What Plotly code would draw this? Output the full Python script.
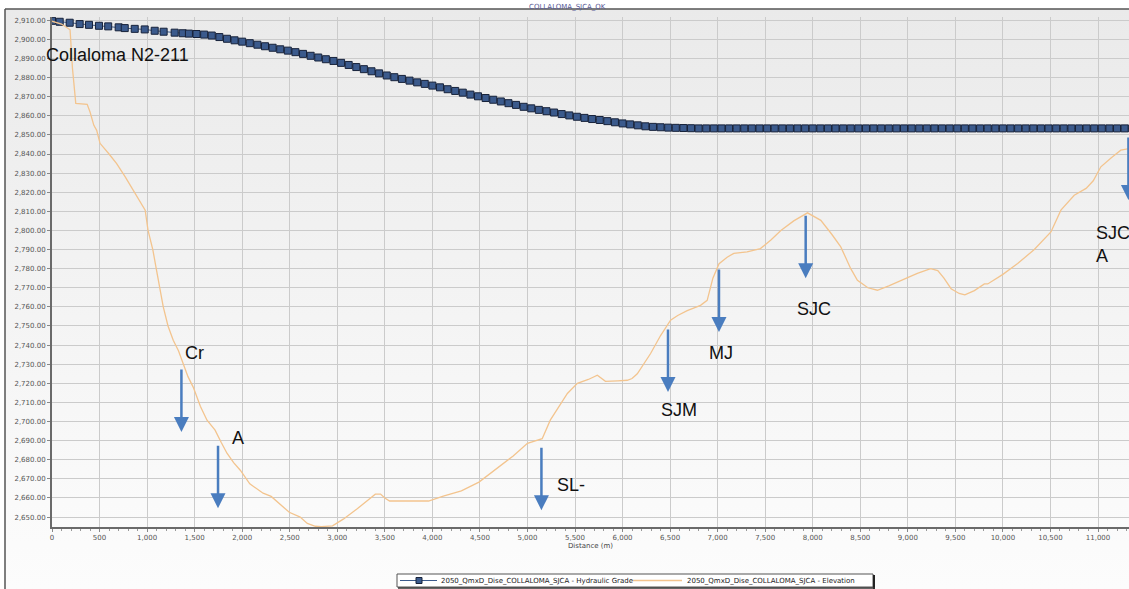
import base64
import plotly.graph_objects as go

# ---------------- data ----------------
hgl_dist = [0, 81, 186, 291, 389, 494, 591, 701, 765, 870, 975, 1080, 1174, 1290, 1374,
            1440, 1520, 1600, 1680, 1760, 1840, 1920, 2000,
            2080, 2160, 2240, 2320, 2400, 2480, 2560,
            2640, 2720, 2800, 2880, 2960, 3040,
            3120, 3200, 3280, 3360, 3440, 3520,
            3600, 3680, 3760, 3840, 3920, 4000,
            4080, 4160, 4240, 4320, 4400, 4480,
            4560, 4640, 4720, 4800, 4880, 4960,
            5040, 5120, 5200, 5280, 5360, 5440, 5520,
            5600, 5680, 5760, 5840, 5920, 6000,
            6080, 6160, 6240, 6320, 6400, 6480, 6560, 6640, 6720,
            6800, 6880, 6960, 7040, 7120, 7200, 7280, 7360, 7440, 7520,
            7600, 7680, 7760, 7840, 7920, 8000, 8080, 8160, 8240, 8320,
            8400, 8480, 8560, 8640, 8720, 8800, 8880, 8960, 9040, 9120,
            9200, 9280, 9360, 9440, 9520, 9600, 9680, 9760, 9840, 9920,
            10000, 10080, 10160, 10240, 10320, 10400, 10480, 10560, 10640, 10720,
            10800, 10880, 10960, 11040, 11120, 11200, 11280, 11360]
hgl_value = [2909.7, 2909.2, 2908.7, 2908.0, 2907.6, 2907.1, 2906.8, 2906.3, 2905.9, 2905.5,
             2905.2, 2904.5, 2904.0, 2903.5, 2903.2,
             2903.0, 2902.8, 2902.5, 2902.0, 2901.2, 2900.3, 2899.5, 2898.8,
             2898.0, 2897.2, 2896.4, 2895.6, 2894.8, 2894.1, 2893.3,
             2892.4, 2891.4, 2890.5, 2889.6, 2888.7, 2887.7,
             2886.6, 2885.5, 2884.4, 2883.3, 2882.2, 2881.1,
             2880.2, 2879.3, 2878.4, 2877.5, 2876.7, 2875.8,
             2874.9, 2873.9, 2873.0, 2872.1, 2871.1, 2870.2,
             2869.3, 2868.4, 2867.5, 2866.6, 2865.7, 2864.7,
             2863.9, 2863.1, 2862.4, 2861.7, 2860.9, 2860.2, 2859.5,
             2858.9, 2858.3, 2857.8, 2857.2, 2856.6, 2856.0,
             2855.5, 2855.0, 2854.5, 2854.2, 2854.0, 2853.8, 2853.7, 2853.6, 2853.5,
             2853.4, 2853.4, 2853.4, 2853.4, 2853.4, 2853.4, 2853.4, 2853.4, 2853.4, 2853.4,
             2853.4, 2853.4, 2853.4, 2853.4, 2853.4, 2853.4, 2853.4, 2853.4, 2853.4, 2853.4,
             2853.4, 2853.4, 2853.4, 2853.4, 2853.4, 2853.4, 2853.4, 2853.4, 2853.4, 2853.4,
             2853.4, 2853.4, 2853.4, 2853.4, 2853.4, 2853.4, 2853.4, 2853.4, 2853.4, 2853.4,
             2853.4, 2853.4, 2853.4, 2853.4, 2853.4, 2853.4, 2853.4, 2853.4, 2853.4, 2853.4,
             2853.4, 2853.4, 2853.4, 2853.4, 2853.4, 2853.4, 2853.4, 2853.4]

elev_dist = [0, 100, 190, 215, 250, 370, 400, 440, 470, 505, 600, 680, 770, 855, 930, 980,
             1010, 1060, 1100, 1170, 1220, 1275, 1330, 1380, 1430, 1485, 1560, 1630, 1715,
             1780, 1840, 1910, 1980, 2080, 2220, 2305, 2430, 2495, 2610, 2685, 2770, 2833,
             2950, 3063, 3210, 3330, 3400, 3455, 3500, 3550, 3780, 3960, 4115, 4305, 4490,
             4600, 4715, 4850, 5000, 5155, 5240, 5330, 5420, 5525, 5640, 5735, 5820, 5950,
             6050, 6100, 6155, 6295, 6400, 6505, 6580, 6680, 6820, 6890, 6950, 7015, 7100,
             7170, 7310, 7450, 7560, 7665, 7800, 7945, 8085, 8200, 8295, 8400, 8470, 8580,
             8680, 8800, 8930, 9100, 9240, 9315, 9380, 9455, 9540, 9600, 9700, 9805, 9840,
             10000, 10155, 10330, 10505, 10610, 10750, 10875, 10950, 11030, 11140, 11240, 11340]
elev_value = [2909.5, 2908.0, 2905.0, 2885.0, 2866.5, 2866.0, 2862.0, 2855.0, 2852.4, 2845.6,
              2840.0, 2835.0, 2828.0, 2821.0, 2815.0, 2810.6, 2800.0, 2790.0, 2779.0, 2760.0,
              2750.0, 2742.5, 2737.0, 2730.5, 2723.5, 2718.0, 2708.0, 2700.7, 2695.5, 2689.0,
              2683.4, 2678.5, 2674.5, 2667.4, 2662.5, 2660.8, 2655.0, 2652.5, 2650.0, 2646.7,
              2645.2, 2645.0, 2645.4, 2648.9, 2654.4, 2659.0, 2662.0, 2662.0, 2660.0, 2658.4,
              2658.4, 2658.4, 2661.0, 2663.7, 2668.3, 2672.5, 2676.5, 2682.0, 2688.6, 2691.0,
              2700.7, 2708.0, 2714.7, 2720.0, 2722.0, 2724.2, 2721.0, 2721.3, 2721.6, 2722.5,
              2725.0, 2735.6, 2745.0, 2753.0, 2755.5, 2758.0, 2760.8, 2763.4, 2775.0, 2782.6,
              2786.0, 2788.0, 2788.8, 2790.5, 2795.0, 2800.0, 2805.0, 2809.2, 2805.3, 2798.0,
              2791.4, 2780.0, 2773.9, 2770.0, 2768.7, 2771.0, 2773.9, 2777.5, 2780.0, 2779.0,
              2775.0, 2769.5, 2767.0, 2766.3, 2768.5, 2772.0, 2772.0, 2777.0, 2782.7, 2790.0,
              2799.2, 2810.6, 2818.4, 2822.0, 2826.0, 2833.3, 2838.0, 2842.0, 2842.9]

# station labels: (text, x, y) and arrows: (tip x, tip y)
label_text = ["Cr", "A", "SL-", "SJM", "MJ", "SJC"]
label_x = [1376, 1870, 5288, 6380, 6886, 7812]
label_y = [2735.8, 2691.3, 2666.7, 2706.0, 2735.8, 2758.8]
arrow_x = [1361, 1746, 5147, 6478, 7014, 7926, 11320]
arrow_y = [2694.5, 2654.6, 2653.6, 2715.5, 2746.9, 2775.0, 2815.9]

x_range = [0, 11326]
y_range = [2644.8, 2911.7]

hgl_name = "2050_QmxD_Dise_COLLALOMA_SJCA - Hydraulic Grade"
elev_name = "2050_QmxD_Dise_COLLALOMA_SJCA - Elevation"
chart_title = "COLLALOMA_SJCA_OK"

HGL_COLOR = "#3b5a8c"
HGL_EDGE = "#17223a"
ELEV_COLOR = "#f3c48e"

# ---------------- figure ----------------
fig = go.Figure()
fig.add_trace(go.Scatter(
    x=hgl_dist, y=hgl_value, name=hgl_name, mode="lines+markers",
    line=dict(color=HGL_COLOR, width=1),
    marker=dict(symbol="square", size=7, color=HGL_COLOR,
                line=dict(color=HGL_EDGE, width=1)),
))
fig.add_trace(go.Scatter(
    x=elev_dist, y=elev_value, name=elev_name, mode="lines",
    line=dict(color=ELEV_COLOR, width=1.3),
))

W, H = 1129, 589
L, R, T, B = 52, 0, 17, 62
pw, ph = W - L - R, H - T - B


def px_x(p):
    return (p - L) / pw


def px_y(p):
    return (H - B - p) / ph


svg = ('<svg xmlns="http://www.w3.org/2000/svg" viewBox="0 0 100 100" '
       'preserveAspectRatio="none" width="100" height="100">'
       '<defs><linearGradient id="g" x1="0" y1="0" x2="0" y2="1">'
       '<stop offset="0" stop-color="#eaeaea"/><stop offset="0.85" stop-color="#fafafa"/>'
       '<stop offset="1" stop-color="#fcfcfc"/></linearGradient></defs>'
       '<rect x="0" y="0" width="100" height="100" fill="url(#g)"/></svg>')
svg_uri = "data:image/svg+xml;base64," + base64.b64encode(svg.encode()).decode()

fig.add_layout_image(dict(
    source=svg_uri, xref="paper", yref="paper",
    x=px_x(5), y=px_y(9), sizex=(W - 5) / pw, sizey=(H - 9) / ph,
    sizing="stretch", layer="below", xanchor="left", yanchor="top"))

frame = dict(color="#555555", width=1.5)
fig.add_shape(type="line", xref="paper", yref="paper",
              x0=px_x(5), x1=px_x(W + 2), y0=px_y(9), y1=px_y(9), line=frame)
fig.add_shape(type="line", xref="paper", yref="paper",
              x0=px_x(5), x1=px_x(5), y0=px_y(9), y1=px_y(H + 2), line=frame)

# ---- legend box drawn by hand (compact, like the original) ----
leg_top, leg_bot, leg_left, leg_right = 574, 587, 397, 873
leg_mid = (leg_top + leg_bot) / 2
fig.add_shape(type="rect", xref="paper", yref="paper",
              x0=px_x(leg_left), x1=px_x(leg_right), y0=px_y(leg_bot), y1=px_y(leg_top),
              fillcolor="white", line=dict(color="#555", width=1))
fig.add_shape(type="line", xref="paper", yref="paper",
              x0=px_x(leg_right + 1), x1=px_x(leg_right + 1),
              y0=px_y(leg_top + 1), y1=px_y(leg_bot + 2), line=dict(color="#222", width=2))
fig.add_shape(type="line", xref="paper", yref="paper",
              x0=px_x(leg_left + 1), x1=px_x(leg_right + 2),
              y0=px_y(leg_bot + 1), y1=px_y(leg_bot + 1), line=dict(color="#333", width=1.5))
fig.add_shape(type="line", xref="paper", yref="paper",
              x0=px_x(400), x1=px_x(437), y0=px_y(leg_mid), y1=px_y(leg_mid),
              line=dict(color=HGL_COLOR, width=1))
fig.add_shape(type="rect", xref="paper", yref="paper",
              x0=px_x(416), x1=px_x(422), y0=px_y(leg_mid + 3), y1=px_y(leg_mid - 3),
              fillcolor=HGL_COLOR, line=dict(color=HGL_EDGE, width=1))
fig.add_shape(type="line", xref="paper", yref="paper",
              x0=px_x(633), x1=px_x(682), y0=px_y(leg_mid), y1=px_y(leg_mid),
              line=dict(color=ELEV_COLOR, width=1.3))

tick_font = dict(family="DejaVu Sans", size=7, color="#555555")
fig.update_xaxes(
    range=x_range, tick0=0, dtick=500, tickformat=",", showgrid=True,
    gridcolor="#cbcbcb", gridwidth=1, zeroline=False, showline=True,
    linecolor="#6a6a6a", linewidth=2, ticks="outside", ticklen=3, tickcolor="#888",
    tickfont=tick_font, automargin=False,
    title=dict(text="Distance (m)", font=dict(family="DejaVu Sans", size=7, color="#444"),
               standoff=2),
    minor=dict(dtick=100, ticks="outside", ticklen=2, tickcolor="#999", showgrid=False),
)
fig.update_yaxes(
    range=y_range, tick0=2650, dtick=10, tickformat=",.2f", showgrid=True,
    gridcolor="#cbcbcb", gridwidth=1, zeroline=False, showline=True,
    linecolor="#6a6a6a", linewidth=2, ticks="outside", ticklen=3, tickcolor="#888",
    tickfont=tick_font, automargin=False,
)

label_font = dict(family="Liberation Sans, Arial", size=18, color="#111111")
legend_font = dict(family="DejaVu Sans", size=7, color="#222222")
annotations = []
for t, x, y in zip(label_text, label_x, label_y):
    annotations.append(dict(text=t, x=x, y=y, xref="x", yref="y", showarrow=False,
                            xanchor="left", yanchor="middle", font=label_font))
annotations.append(dict(text="Collaloma N2-211", x=0, y=2891.8, xref="x", yref="y",
                        xshift=-8, showarrow=False, xanchor="left", yanchor="middle",
                        font=label_font))
annotations.append(dict(text="SJC<br>A", x=10955, y=2792.6, xref="x", yref="y",
                        showarrow=False, xanchor="left", yanchor="middle", align="left",
                        font=label_font))
for x, y in zip(arrow_x, arrow_y):
    annotations.append(dict(text="", x=x, y=y, xref="x", yref="y", showarrow=True,
                            ax=0, ay=-64, axref="pixel", ayref="pixel",
                            arrowhead=2, arrowsize=1.2, arrowwidth=2.5,
                            arrowcolor="#4a7dbf", standoff=0))
annotations.append(dict(text=chart_title, x=px_x(567), y=px_y(7), xref="paper", yref="paper",
                        showarrow=False, xanchor="center", yanchor="middle",
                        font=dict(family="DejaVu Sans", size=7, color="#5a5a96")))
annotations.append(dict(text=hgl_name, x=px_x(439), y=px_y(leg_mid), xref="paper",
                        yref="paper", showarrow=False, xanchor="left", yanchor="middle",
                        font=legend_font))
annotations.append(dict(text=elev_name, x=px_x(685), y=px_y(leg_mid), xref="paper",
                        yref="paper", showarrow=False, xanchor="left", yanchor="middle",
                        font=legend_font))

fig.update_layout(
    width=W, height=H, margin=dict(l=L, r=R, t=T, b=B, pad=0),
    paper_bgcolor="white", plot_bgcolor="rgba(0,0,0,0)",
    annotations=annotations, showlegend=False,
)

fig.write_html("out.html", config={"displayModeBar": False},
               post_script="document.body.style.margin='0';document.body.style.padding='0';")
